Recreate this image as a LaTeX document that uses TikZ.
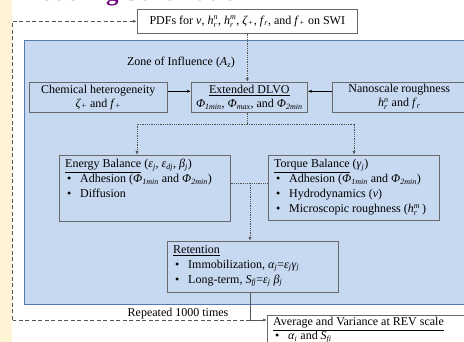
\documentclass[tikz,border=0pt]{standalone}
\usepackage{amsmath}
\usepackage{fontspec}
\setmainfont{Liberation Serif}
\usetikzlibrary{arrows.meta}
\definecolor{beige}{RGB}{255,243,214}
\definecolor{zonefill}{RGB}{198,217,240}
\definecolor{zoneline}{RGB}{88,122,178}
\definecolor{boxgray}{RGB}{105,105,105}
\definecolor{titlepurple}{RGB}{118,8,130}
\definecolor{linegray}{RGB}{85,85,85}
\newcommand{\sx}[1]{$_{\textit{#1}}$}
\newcommand{\spx}[2]{$_{\textit{#1}}^{\textit{#2}}$}
\newcommand{\bul}{\hspace*{2pt}\makebox[13pt][l]{•}}
\begin{document}
\begin{tikzpicture}[x=1pt,y=-1pt,
  every node/.style={font=\fontsize{12}{15}\selectfont},
  cbox/.style={draw=boxgray, line width=0.6pt, anchor=north west, align=center, inner sep=0pt},
  rbox/.style={draw=boxgray, line width=0.6pt, anchor=north west, inner sep=0pt},
  btext/.style={anchor=north west, align=left, inner sep=0pt},
  arr/.style={-{Latex[length=4pt,width=3pt]}},
  dotline/.style={draw=linegray, line width=0.7pt, dash pattern=on 1pt off 0.8pt},
  solidline/.style={draw=linegray, line width=0.6pt},
  dashline/.style={draw=linegray, line width=0.8pt, dash pattern=on 4pt off 2.5pt}]
\useasboundingbox (0,0) rectangle (464,342);
\clip (0,0) rectangle (464,342);
\fill[white] (0,0) rectangle (464,342);
\fill[beige] (0,0) rectangle (12,342);
% title
\node[anchor=base west, inner sep=0pt, text=titlepurple, font=\fontsize{25}{28}\selectfont\bfseries] (title) at (17,1) {Modeling Schematic};
% zone
\node[draw=zoneline, fill=zonefill, line width=1.3pt, anchor=north west, minimum width=470pt, minimum height=264pt, inner sep=0pt] (zone) at (24,40) {};
\node (zonelbl) at (181,63) {Zone of Influence (\textit{A}\sx{z})};
% top box
\node[cbox, fill=white, minimum width=220pt, minimum height=24pt] (pdf) at (137,9)
  {PDFs for \textit{v}, \textit{h}\spx{r}{n}, \textit{h}\spx{r}{m}, \textit{ζ}\sx{+}, \textit{f}\sx{r}, and \textit{f}\sx{+} on SWI};
% row 1
\node[cbox, minimum width=138pt, minimum height=30pt] (chem) at (29,82)
  {Chemical heterogeneity\\[-1pt] \textit{ζ}\sx{+} and \textit{f}\sx{+}};
\node[cbox, minimum width=116pt, minimum height=30pt] (dlvo) at (191,82)
  {\underline{Extended DLVO}\\[-1pt] \textit{Φ}\sx{1min}, \textit{Φ}\sx{max}, and \textit{Φ}\sx{2min}};
\node[cbox, minimum width=134pt, minimum height=30pt] (nano) at (332,82)
  {Nanoscale roughness\\[-1pt] \textit{h}\spx{r}{n} and \textit{f}\sx{r}};
% row 2
\node[rbox, minimum width=171pt, minimum height=66pt] (energy) at (59,155) {};
\node[btext] (energyT) at ([shift={(6pt,-4pt)}]energy.north west)
  {\underline{Energy Balance} (\textit{ε}\sx{j}, \textit{ε}\sx{dj}, \textit{β}\sx{j})\\
   \bul Adhesion (\textit{Φ}\sx{1min} and \textit{Φ}\sx{2min})\\
   \bul Diffusion};
\node[rbox, minimum width=171pt, minimum height=65pt] (torque) at (268,155) {};
\node[btext] (torqueT) at ([shift={(6pt,-4pt)}]torque.north west)
  {\underline{Torque Balance} (\textit{γ}\sx{j})\\
   \bul Adhesion (\textit{Φ}\sx{1min} and \textit{Φ}\sx{2min})\\
   \bul Hydrodynamics (\textit{v})\\
   \bul Microscopic roughness (\textit{h}\spx{r}{m}\,)};
% row 3
\node[rbox, minimum width=171pt, minimum height=51pt] (ret) at (167,241) {};
\node[btext] (retT) at ([shift={(6pt,-4pt)}]ret.north west)
  {\underline{Retention}\\
   \bul Immobilization, \textit{α}\sx{j}=\textit{ε}\sx{j}\textit{γ}\sx{j}\\
   \bul Long-term, \textit{S}\sx{fj}=\textit{ε}\sx{j} \textit{β}\sx{j}};
% bottom
\node[rbox, fill=white, minimum width=203pt, minimum height=40pt] (avg) at (267,315) {};
\node[btext] (avgT) at ([shift={(6pt,-2pt)}]avg.north west)
  {\underline{Average and Variance at REV scale}\\[-1pt]
   \bul \textit{α}\sx{i} and \textit{S}\sx{fi}};
\node[anchor=base, inner sep=0pt] (rep) at (178,317) {Repeated 1000 times};
% connectors
\draw[dotline, arr] (pdf.south) -- (pdf.south |- dlvo.north);
\draw[draw=black, line width=0.7pt, arr] ([yshift=6pt]chem.east) -- ([yshift=6pt]dlvo.west);
\draw[draw=black, line width=0.7pt, arr] ([yshift=6pt]nano.west) -- ([yshift=6pt]dlvo.east);
\coordinate (split) at (247,124);
\coordinate (eN) at (137,155);
\coordinate (tN) at (354,155);
\draw[dotline] (dlvo.south -| split) -- (split);
\draw[dotline, arr] (split) -| (eN);
\draw[dotline, arr] (split) -| (tN);
\coordinate (mid) at (250,183);
\draw[dotline] (energy.east |- mid) -- (torque.west |- mid);
\draw[dotline, arr] (mid) -- (mid |- ret.north);
\coordinate (loop) at (250,320);
\draw[solidline] (mid |- ret.south) -- (loop);
\draw[solidline, arr] (loop) -- (avg.west |- loop);
\coordinate (corner) at (12.5,320);
\draw[dashline] (loop) -- (corner);
\draw[dashline, arr] (corner) |- (pdf.west);
\end{tikzpicture}
\end{document}
